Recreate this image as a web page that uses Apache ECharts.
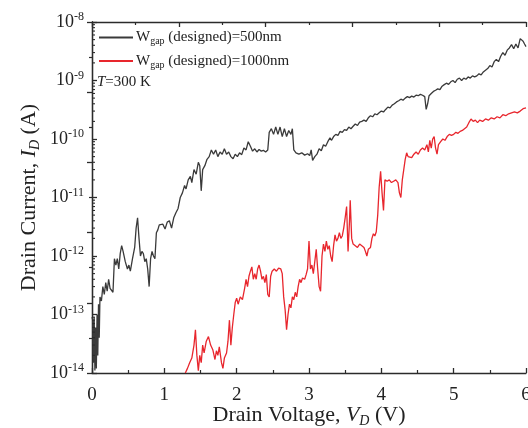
<!DOCTYPE html>
<html><head><meta charset="utf-8">
<script src="https://cdn.jsdelivr.net/npm/echarts@6/dist/echarts.min.js"></script>
<style>html,body{margin:0;padding:0;background:#fff}#c{width:528px;height:428px}</style>
</head><body><div id="c"></div>
<script>
// ---- data (V in volts, I in amperes) ----
const seriesNames = ['W_gap (designed)=500nm', 'W_gap (designed)=1000nm'];
const xTicks = [0, 1, 2, 3, 4, 5, 6];
const yDecades = [-14, -13, -12, -11, -10, -9, -8];

const black500 = [
[0.00,9e-14],[0.01,8e-14],[0.02,1.5e-14],[0.03,9e-14],[0.04,1.1e-14],[0.05,6e-14],[0.06,1.2e-14],[0.07,1e-13],[0.08,2e-14],[0.09,1.5e-13],[0.10,4e-14],[0.11,2e-13],
[0.13,1.7e-13],[0.15,3e-13],[0.17,2.2e-13],[0.19,3.5e-13],[0.21,2.5e-13],[0.23,4e-13],[0.25,2.8e-13],[0.27,3e-13],[0.29,2.4e-13],[0.31,9e-13],[0.33,7e-13],[0.35,9e-13],
[0.37,6e-13],[0.39,1.1e-12],[0.41,1.5e-12],[0.43,1.2e-12],[0.46,8e-13],[0.49,6e-13],[0.51,7e-13],[0.53,5.5e-13],[0.56,9e-13],[0.59,1.4e-12],[0.61,3e-12],[0.63,4.5e-12],
[0.65,2e-12],[0.67,1e-12],[0.69,1.2e-12],[0.71,1.1e-12],[0.73,8e-13],[0.75,9e-13],[0.77,6e-13],[0.79,3e-13],[0.81,9e-13],[0.83,1.2e-12],[0.85,1e-12],[0.87,9e-13],
[0.89,2.5e-12],[0.91,2.8e-12],[0.93,3.4e-12],[0.95,3.2e-12],[0.98,3.5e-12],[1.01,2.9e-12],[1.04,3.8e-12],[1.07,4e-12],[1.10,3e-12],[1.13,4.5e-12],[1.16,5.5e-12],
[1.19,6.5e-12],[1.22,1e-11],[1.25,1.2e-11],[1.28,1.6e-11],[1.30,1.4e-11],[1.33,2e-11],[1.36,2.3e-11],[1.38,1.8e-11],[1.41,3e-11],[1.44,2.5e-11],[1.47,4e-11],
[1.49,3.5e-11],[1.51,1.3e-11],[1.53,3e-11],[1.56,3.5e-11],[1.59,4.5e-11],[1.62,5e-11],[1.65,6.5e-11],[1.68,5.5e-11],[1.71,6.5e-11],[1.74,5e-11],[1.77,6e-11],
[1.80,5.5e-11],[1.83,6.8e-11],[1.86,5.5e-11],[1.89,6e-11],[1.92,5e-11],[1.95,4.6e-11],[1.98,5.5e-11],[2.01,5e-11],[2.04,5.8e-11],[2.07,5.4e-11],[2.10,7e-11],
[2.13,6.5e-11],[2.16,9e-11],[2.19,7.5e-11],[2.22,6.2e-11],[2.25,6.8e-11],[2.28,6e-11],[2.31,6.6e-11],[2.34,6.2e-11],[2.37,6.4e-11],[2.40,6e-11],[2.43,6.5e-11],
[2.45,1.3e-10],[2.48,1.5e-10],[2.51,1.2e-10],[2.54,1.6e-10],[2.57,1.2e-10],[2.60,1.6e-10],[2.63,1.1e-10],[2.66,1.5e-10],[2.69,1.1e-10],[2.72,1.4e-10],[2.75,1.2e-10],
[2.77,1.5e-10],[2.79,6.5e-11],[2.82,5.8e-11],[2.86,5.5e-11],[2.90,5.8e-11],[2.94,5.3e-11],[2.98,5.6e-11],[3.01,5.2e-11],[3.03,6.5e-11],[3.05,4.3e-11],[3.08,5e-11],
[3.11,5.5e-11],[3.14,6.8e-11],[3.17,6.3e-11],[3.20,8e-11],[3.23,7.5e-11],[3.26,9e-11],[3.29,1.05e-10],[3.31,9.5e-11],[3.34,1.1e-10],[3.37,1.2e-10],[3.40,1.15e-10],
[3.43,1.35e-10],[3.46,1.3e-10],[3.49,1.45e-10],[3.52,1.4e-10],[3.55,1.6e-10],[3.58,1.5e-10],[3.61,1.65e-10],[3.64,1.8e-10],[3.67,1.7e-10],[3.70,1.95e-10],
[3.73,2e-10],[3.76,2.1e-10],[3.79,2e-10],[3.82,2.3e-10],[3.85,2.5e-10],[3.88,2.4e-10],[3.91,2.7e-10],[3.94,2.6e-10],[3.97,2.8e-10],[4.00,3e-10],[4.03,2.9e-10],
[4.06,3.2e-10],[4.09,3.5e-10],[4.12,3.4e-10],[4.15,3.8e-10],[4.18,4e-10],[4.21,4.3e-10],[4.24,4.5e-10],[4.27,4.8e-10],[4.30,4.6e-10],[4.33,5.0e-10],[4.36,5.3e-10],
[4.39,5.1e-10],[4.42,5.4e-10],[4.45,5.2e-10],[4.48,5.6e-10],[4.51,5.5e-10],[4.54,5.8e-10],[4.57,5.6e-10],[4.60,5.3e-10],[4.62,3.2e-10],[4.64,4e-10],[4.66,5.5e-10],
[4.69,6e-10],[4.72,6.5e-10],[4.75,6.8e-10],[4.78,7.2e-10],[4.81,7e-10],[4.84,8e-10],[4.87,8.5e-10],[4.90,9e-10],[4.93,8.6e-10],[4.96,9.5e-10],[4.99,1.0e-9],
[5.02,9.2e-10],[5.05,1.05e-9],[5.08,1.1e-9],[5.11,1.0e-9],[5.14,1.1e-9],[5.17,1.05e-9],[5.20,1.15e-9],[5.23,1.1e-9],[5.26,1.2e-9],[5.29,1.15e-9],[5.32,1.2e-9],
[5.35,1.3e-9],[5.38,1.25e-9],[5.41,1.4e-9],[5.44,1.5e-9],[5.47,1.6e-9],[5.50,1.8e-9],[5.53,1.7e-9],[5.56,2.1e-9],[5.59,2.3e-9],[5.62,2.1e-9],[5.65,2.6e-9],
[5.68,3e-9],[5.71,2.7e-9],[5.74,3.3e-9],[5.77,3.6e-9],[5.80,4.1e-9],[5.83,3.5e-9],[5.86,4.2e-9],[5.89,3.6e-9],[5.92,5.2e-9],[5.94,5.5e-9],[5.96,4.7e-9],
[5.98,4.2e-9],[6.00,3.8e-9]
];

const red1000 = [
[1.29,1.0e-14],[1.32,1.2e-14],[1.35,1.5e-14],[1.38,1.8e-14],[1.41,3e-14],[1.43,5.5e-14],[1.45,2e-14],[1.47,1.1e-14],[1.49,2e-14],[1.51,1.5e-14],[1.53,3e-14],
[1.55,2.2e-14],[1.58,3.5e-14],[1.61,4.2e-14],[1.64,3e-14],[1.67,2.5e-14],[1.70,1.7e-14],[1.72,2.4e-14],[1.74,2e-14],[1.76,2.8e-14],[1.79,1.5e-14],[1.81,1.2e-14],
[1.83,1.8e-14],[1.86,2.2e-14],[1.88,3.5e-14],[1.90,8e-14],[1.92,3e-14],[1.94,6e-14],[1.96,1e-13],[1.98,1.6e-13],[2.00,1.9e-13],[2.02,1.5e-13],[2.05,2e-13],
[2.08,1.8e-13],[2.11,2.8e-13],[2.13,4e-13],[2.15,3e-13],[2.17,4.5e-13],[2.19,5.5e-13],[2.21,6.5e-13],[2.23,4e-13],[2.25,5e-13],[2.27,4e-13],[2.29,6e-13],
[2.31,7e-13],[2.33,5.5e-13],[2.35,4e-13],[2.37,4.5e-13],[2.39,3.5e-13],[2.41,4.8e-13],[2.43,2.2e-13],[2.45,2e-13],[2.47,4.5e-13],[2.49,5.5e-13],[2.52,6e-13],
[2.55,5.5e-13],[2.58,6.2e-13],[2.61,6e-13],[2.63,5e-13],[2.65,2e-13],[2.67,1.2e-13],[2.69,5.5e-14],[2.71,1e-13],[2.73,1.5e-13],[2.75,1.3e-13],[2.77,2e-13],
[2.79,1.8e-13],[2.81,2.4e-13],[2.83,2e-13],[2.85,3e-13],[2.87,4e-13],[2.89,3.5e-13],[2.91,4.2e-13],[2.94,4e-13],[2.96,4.8e-13],[2.98,6e-13],[3.00,1.8e-12],
[3.02,6e-13],[3.04,7e-13],[3.06,5e-13],[3.08,8e-13],[3.10,1.3e-12],[3.12,6e-13],[3.14,3e-13],[3.16,2.5e-13],[3.18,1e-12],[3.20,1.6e-12],[3.22,1.2e-12],
[3.24,1.8e-12],[3.26,1.3e-12],[3.28,1.5e-12],[3.30,1e-12],[3.32,8e-13],[3.34,1.5e-12],[3.36,2.3e-12],[3.38,1.8e-12],[3.40,2e-12],[3.42,2.5e-12],[3.44,2e-12],
[3.46,2.2e-12],[3.48,3e-12],[3.50,4.5e-12],[3.52,7e-12],[3.54,1.2e-12],[3.56,4e-12],[3.57,9e-12],[3.59,2e-12],[3.61,1.6e-12],[3.64,1.5e-12],[3.67,1.4e-12],
[3.70,1.6e-12],[3.73,1.5e-12],[3.76,1.4e-12],[3.78,1.2e-12],[3.80,1e-12],[3.82,1.3e-12],[3.85,1.4e-12],[3.87,2e-12],[3.89,2.4e-12],[3.91,2.2e-12],[3.93,2.6e-12],
[3.95,5e-12],[3.97,1.5e-11],[3.99,2.8e-11],[4.01,1.2e-11],[4.03,6e-12],[4.05,2e-11],[4.08,1.9e-11],[4.11,2e-11],[4.14,1.8e-11],[4.17,1.9e-11],[4.20,2e-11],
[4.23,1.8e-11],[4.25,1.2e-11],[4.27,1e-11],[4.29,2e-11],[4.31,3e-11],[4.33,4.5e-11],[4.35,5.8e-11],[4.37,5e-11],[4.39,5.2e-11],[4.42,4.8e-11],[4.45,5.5e-11],
[4.48,6e-11],[4.51,5.5e-11],[4.54,6.5e-11],[4.57,7e-11],[4.60,6.5e-11],[4.63,8e-11],[4.65,6e-11],[4.67,9.5e-11],[4.69,7e-11],[4.71,1e-10],[4.73,1.1e-10],
[4.75,7e-11],[4.77,5.5e-11],[4.79,8e-11],[4.82,9e-11],[4.85,1e-10],[4.88,9.5e-11],[4.91,1.1e-10],[4.94,1.2e-10],[4.97,1.15e-10],[5.00,1.2e-10],[5.03,1.3e-10],
[5.06,1.25e-10],[5.09,1.35e-10],[5.12,1.4e-10],[5.15,1.5e-10],[5.18,1.6e-10],[5.21,1.9e-10],[5.24,2.2e-10],[5.27,2e-10],[5.30,2.1e-10],[5.33,1.9e-10],
[5.36,2.1e-10],[5.40,2e-10],[5.44,2.2e-10],[5.48,2.1e-10],[5.52,2.3e-10],[5.56,2.2e-10],[5.60,2.4e-10],[5.64,2.3e-10],[5.68,2.6e-10],[5.72,2.5e-10],
[5.76,2.7e-10],[5.80,2.8e-10],[5.84,2.9e-10],[5.88,2.8e-10],[5.92,3e-10],[5.96,3.3e-10],[6.00,3.4e-10]
];

// log minor tick positions (2..9 x 10^d)
const minorMultipliers = [2, 3, 4, 5, 6, 7, 8, 9];

const FONT = '"Liberation Serif", "Times New Roman", serif';
const AX = '#2b2b2b';
const minorVals = [];
for (let d = yDecades[0]; d < yDecades[yDecades.length - 1]; d++) {
  minorMultipliers.forEach(m => minorVals.push([0, m * Math.pow(10, d)]));
}

const chart = echarts.init(document.getElementById('c'), null, {renderer: 'canvas'});
const legRich = {
  w: {fontFamily: FONT, fontSize: 15, color: '#222'},
  g: {fontFamily: FONT, fontSize: 10, color: '#222', padding: [8, 0, 0, 0]}
};
chart.setOption({
  animation: false,
  backgroundColor: '#fff',
  textStyle: {fontFamily: FONT},
  grid: {left: 92, right: 2, top: 22, bottom: 55, containLabel: false, outerBoundsMode: 'none'},
  legend: {
    data: seriesNames,
    orient: 'vertical',
    left: 93, top: 25,
    itemWidth: 34, itemHeight: 12, itemGap: 7,
    itemStyle: {opacity: 0},
    formatter: n => {
      const rest = n.replace('W_gap', '');
      return '{w|W}{g|gap}{w|' + rest + '}';
    },
    textStyle: {rich: legRich, padding: [0, 0, 0, -2]}
  },
  graphic: [{
    type: 'text', left: 97, top: 75,
    style: {
      text: '{i|T}{n|=300 K}',
      rich: {
        i: {fontFamily: FONT, fontSize: 15, fontStyle: 'italic', fill: '#222'},
        n: {fontFamily: FONT, fontSize: 15, fill: '#222'}
      }
    }
  }],
  xAxis: [{
    type: 'value', min: xTicks[0], max: xTicks[xTicks.length - 1], interval: 1,
    position: 'bottom',
    axisLine: {show: true, lineStyle: {color: AX, width: 1.3}},
    axisTick: {inside: true, length: 5, lineStyle: {color: AX, width: 1.3}},
    minorTick: {show: true, splitNumber: 2, length: 3, lineStyle: {color: AX, width: 1.2}},
    splitLine: {show: false},
    axisLabel: {fontFamily: FONT, fontSize: 19, color: '#222', margin: 13},
    name: '{n|Drain Voltage, }{i|V}{s|D}{n| (V)}',
    nameLocation: 'middle', nameGap: 30, nameMoveOverlap: false,
    nameTextStyle: {rich: {
      n: {fontFamily: FONT, fontSize: 22, color: '#222'},
      i: {fontFamily: FONT, fontSize: 22, fontStyle: 'italic', color: '#222'},
      s: {fontFamily: FONT, fontSize: 14, fontStyle: 'italic', color: '#222', padding: [11, 0, 0, 0]}
    }}
  }, {
    type: 'value', min: 0, max: 6, interval: 1.2, position: 'top',
    axisLine: {show: true, lineStyle: {color: AX, width: 1.3}},
    axisTick: {inside: true, length: 5, lineStyle: {color: AX, width: 1.3}},
    minorTick: {show: true, splitNumber: 2, length: 3, lineStyle: {color: AX, width: 1.2}},
    axisLabel: {show: false}, splitLine: {show: false}
  }],
  yAxis: [{
    type: 'log', logBase: 10, min: Math.pow(10, yDecades[0]), max: Math.pow(10, yDecades[yDecades.length - 1]),
    splitNumber: 6,
    axisLine: {show: true, lineStyle: {color: AX, width: 1.3}},
    axisTick: {inside: true, length: 5, lineStyle: {color: AX, width: 1.3}},
    splitLine: {show: false},
    axisLabel: {
      margin: 8,
      formatter: v => '{b|10}{s|' + Math.round(Math.log10(v)) + '}',
      rich: {
        b: {fontFamily: FONT, fontSize: 18, color: '#222'},
        s: {fontFamily: FONT, fontSize: 12, color: '#222', padding: [0, 0, 10, 0]}
      }
    },
    name: '{n|Drain Current, }{i|I}{s|D}{n| (A)}',
    nameLocation: 'middle', nameGap: 50, nameRotate: 90, nameMoveOverlap: false,
    nameTextStyle: {rich: {
      n: {fontFamily: FONT, fontSize: 22, color: '#222'},
      i: {fontFamily: FONT, fontSize: 22, fontStyle: 'italic', color: '#222'},
      s: {fontFamily: FONT, fontSize: 14, fontStyle: 'italic', color: '#222', padding: [11, 0, 0, 0]}
    }}
  }, {
    type: 'value', min: 0, max: 6, interval: 1.2, position: 'right',
    axisLine: {show: true, lineStyle: {color: AX, width: 1.3}},
    axisTick: {inside: true, length: 5, lineStyle: {color: AX, width: 1.3}},
    minorTick: {show: true, splitNumber: 2, length: 3, lineStyle: {color: AX, width: 1.2}},
    axisLabel: {show: false}, splitLine: {show: false}
  }],
  series: [{
    name: seriesNames[0], type: 'line', data: black500, showSymbol: false, symbol: 'none',
    lineStyle: {color: '#3a3a3a', width: 1.3}, itemStyle: {color: '#3a3a3a'}
  }, {
    name: seriesNames[1], type: 'line', data: red1000, showSymbol: false, symbol: 'none',
    lineStyle: {color: '#e8262d', width: 1.3}, itemStyle: {color: '#e8262d'}
  }, {
    name: 'minor', type: 'custom', data: minorVals, silent: true, z: 5,
    renderItem: (params, api) => {
      const p = api.coord([api.value(0), api.value(1)]);
      return {type: 'line', shape: {x1: p[0], y1: p[1], x2: p[0] + 3, y2: p[1]},
        style: {stroke: AX, lineWidth: 1.1}};
    }
  }]
});
</script></body></html>
